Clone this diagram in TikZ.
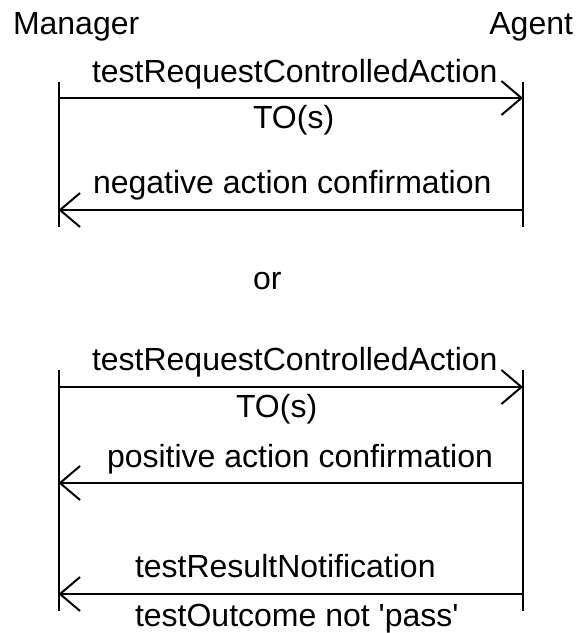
\documentclass[tikz,border=0pt]{standalone}
\usepackage{fontspec}
\setmainfont{Liberation Sans}
\usetikzlibrary{arrows.meta}
\tikzset{
  lbl/.style={inner sep=0pt, font=\fontsize{16}{19}\selectfont},
  msg/.style={-{Straight Barb[length=10pt,width=17pt]}, line join=miter},
}
\begin{document}
\begin{tikzpicture}[x=0.5pt,y=-0.5pt,line width=1pt]
      \useasboundingbox (0,0) rectangle (579,633);
      \draw
        (12,34) node[lbl,anchor=base west] (manager){Manager}
        (574,34) node[lbl,anchor=base east] (agent){Agent};
      % first case
      \coordinate (m1) at (58.5,82);
      \coordinate (a1) at (523,82);
      \coordinate (m1end) at (58.5,227);
      \coordinate (a1end) at (523,227);
      \coordinate (m1req) at (58.5,98);
      \coordinate (a1req) at (523,98);
      \coordinate (m1neg) at (58.5,210);
      \coordinate (a1neg) at (523,210);
      \draw
        (91,82) node[lbl,anchor=base west] (req1){testRequestControlledAction}
        (252,128) node[lbl,anchor=base west] (to1){TO(s)}
        (92,193) node[lbl,anchor=base west] (neg){negative action confirmation};
      \begin{scope}[-]
        \draw (m1) to (m1end);
        \draw (a1) to (a1end);
      \end{scope}
      \draw[msg] (m1req) to (a1req);
      \draw[msg] (a1neg) to (m1neg);
      % alternative
      \node[lbl,anchor=base west] (or) at (252,289) {or};
      % second case
      \coordinate (m2) at (58.5,370);
      \coordinate (a2) at (523,370);
      \coordinate (m2end) at (58.5,611);
      \coordinate (a2end) at (523,611);
      \coordinate (m2req) at (58.5,387);
      \coordinate (a2req) at (523,387);
      \coordinate (m2pos) at (58.5,483);
      \coordinate (a2pos) at (523,483);
      \coordinate (m2res) at (58.5,594);
      \coordinate (a2res) at (523,594);
      \draw
        (91,370) node[lbl,anchor=base west] (req2){testRequestControlledAction}
        (235,417) node[lbl,anchor=base west] (to2){TO(s)}
        (106,467) node[lbl,anchor=base west] (pos){positive action confirmation}
        (134,577) node[lbl,anchor=base west] (res){testResultNotification}
        (134,626) node[lbl,anchor=base west] (outcome){testOutcome not \textquotesingle pass\textquotesingle};
      \begin{scope}[-]
        \draw (m2) to (m2end);
        \draw (a2) to (a2end);
      \end{scope}
      \draw[msg] (m2req) to (a2req);
      \draw[msg] (a2pos) to (m2pos);
      \draw[msg] (a2res) to (m2res);
    \end{tikzpicture}
\end{document}
